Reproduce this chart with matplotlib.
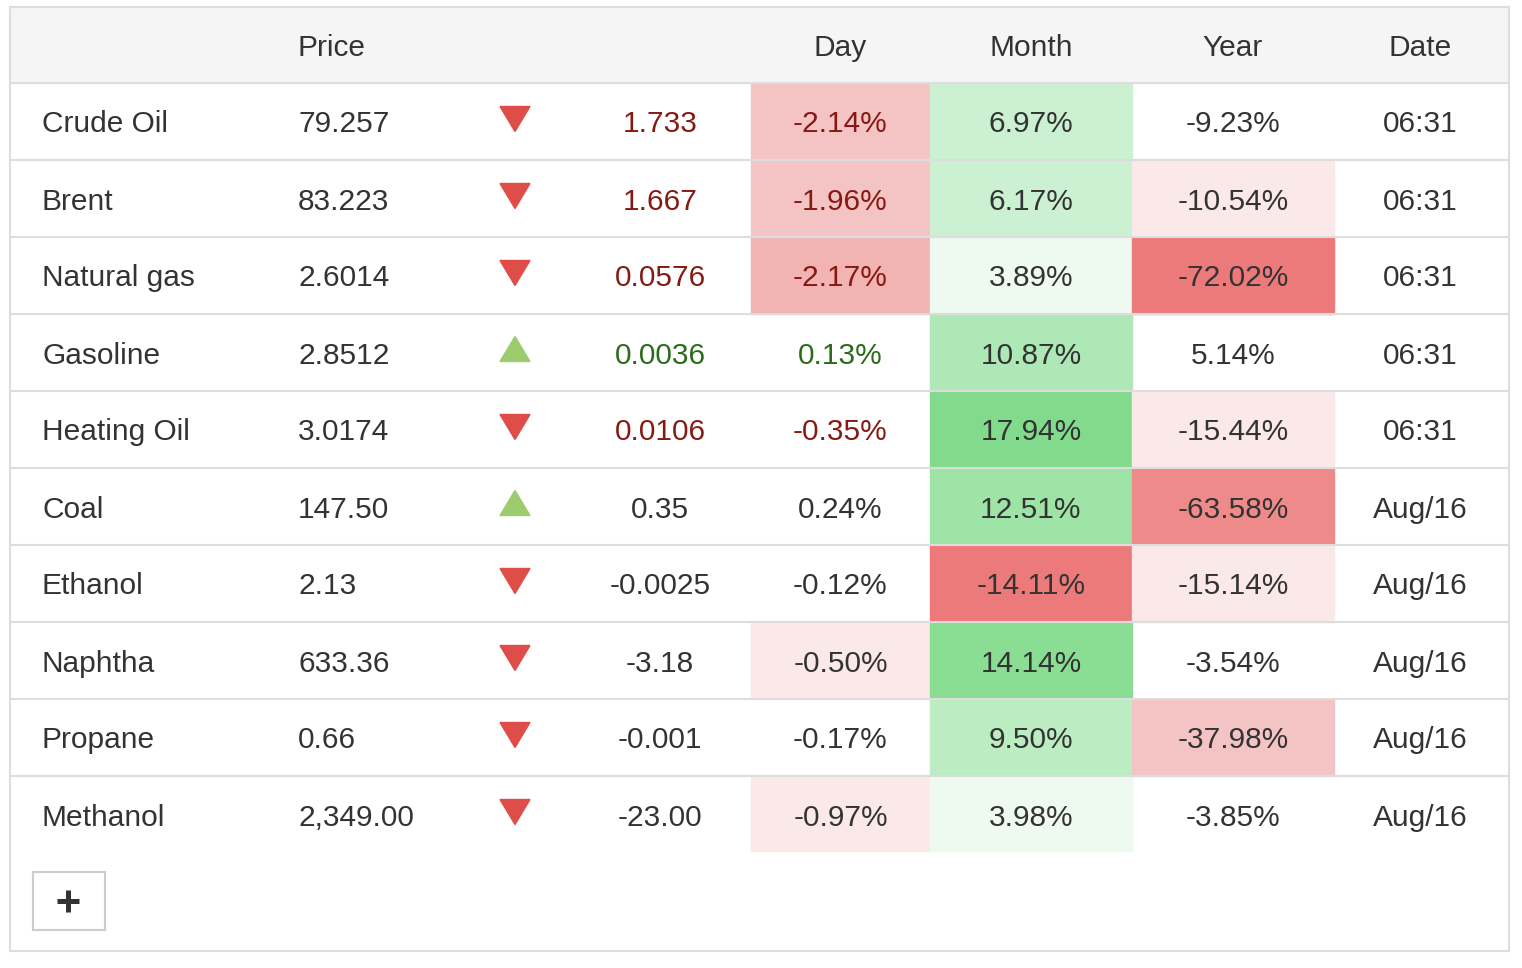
import matplotlib.pyplot as plt
from matplotlib.patches import Rectangle, Polygon

plt.rcParams['font.family'] = ['Liberation Sans', 'DejaVu Sans']

# 表格数据
names = ["Crude Oil", "Brent", "Natural gas", "Gasoline", "Heating Oil",
         "Coal", "Ethanol", "Naphtha", "Propane", "Methanol"]
prices = ["79.257", "83.223", "2.6014", "2.8512", "3.0174",
          "147.50", "2.13", "633.36", "0.66", "2,349.00"]
changes = ["1.733", "1.667", "0.0576", "0.0036", "0.0106",
           "0.35", "-0.0025", "-3.18", "-0.001", "-23.00"]
day_pct = [-2.14, -1.96, -2.17, 0.13, -0.35, 0.24, -0.12, -0.50, -0.17, -0.97]
month_pct = [6.97, 6.17, 3.89, 10.87, 17.94, 12.51, -14.11, 14.14, 9.50, 3.98]
year_pct = [-9.23, -10.54, -72.02, 5.14, -15.44, -63.58, -15.14, -3.54, -37.98, -3.85]
dates = ["06:31", "06:31", "06:31", "06:31", "06:31",
         "Aug/16", "Aug/16", "Aug/16", "Aug/16", "Aug/16"]
headers = ["Price", "Day", "Month", "Year", "Date"]

# 颜色
TXT = '#333333'
LINE = '#dddddd'
DARK_RED = '#861a12'
DARK_GREEN = '#2b6b1c'
ARROW_DOWN = '#de4d47'
ARROW_UP = '#9ccc6e'
RED = ['#fbe9e9', '#f4c4c4', '#f2b3b3', '#ef8a8a', '#ed7a7a']
GREEN = ['#eef9ef', '#ccf0d2', '#bbecc2', '#ade8b6', '#9ee4a6', '#8ade93', '#82da8c']

# 每列的分档阈值 (负值阈值, 负值颜色, 正值阈值, 正值颜色)
BINS = {
    'day': ([0.5, 1.5, 2.15], [RED[0], RED[1], RED[2]], [1.0], [GREEN[0]]),
    'month': ([14.0], [RED[4]], [3, 6, 9, 10, 12, 14, 16], GREEN),
    'year': ([10, 30, 60, 70], [RED[0], RED[1], RED[3], RED[4]], [10], [GREEN[0]]),
}


def cell_color(v, col):
    nt, nc, pt, pc = BINS[col]
    th, cs = (nt, nc) if v < 0 else (pt, pc)
    k = sum(abs(v) >= t for t in th)
    return None if k == 0 else cs[k - 1]


fig = plt.figure(figsize=(15.22, 9.68), dpi=100)
ax = fig.add_axes([0, 0, 1, 1])
ax.set_xlim(0, 1522)
ax.set_ylim(968, 0)
ax.axis('off')

left, right = 11, 1508
top, head_h, row_h = 8, 75, 77
body_bottom = 851
fs = 21.5

# 表头背景
ax.add_patch(Rectangle((left, top), right - left, head_h, color='#f5f5f5', zorder=0))

x_name, x_price, x_arrow, x_chg = 42, 298, 515, 660
col_spans = {'day': (751, 930), 'month': (930, 1132), 'year': (1132, 1334)}
x_date = 1420

hy = top + head_h / 2
ax.text(x_price, hy, headers[0], ha='left', va='center_baseline', fontsize=fs, color=TXT)
for h, key in zip(headers[1:4], ['day', 'month', 'year']):
    a, b = col_spans[key]
    ax.text((a + b) / 2, hy, h, ha='center', va='center_baseline', fontsize=fs, color=TXT)
ax.text(x_date, hy, headers[4], ha='center', va='center_baseline', fontsize=fs, color=TXT)

y0 = top + head_h
for i, name in enumerate(names):
    ry = y0 + i * row_h
    cy = ry + row_h / 2
    live = ':' in dates[i]
    for key, vals in (('day', day_pct), ('month', month_pct), ('year', year_pct)):
        c = cell_color(vals[i], key)
        if c:
            a, b = col_spans[key]
            hgt = min(ry + row_h, body_bottom) - ry
            ax.add_patch(Rectangle((a, ry), b - a, hgt, color=c, zorder=1))
    up = day_pct[i] > 0
    if live:
        vcol = DARK_GREEN if up else DARK_RED
    else:
        vcol = TXT
    ax.text(x_name, cy, name, ha='left', va='center_baseline', fontsize=fs, color=TXT, zorder=3)
    ax.text(x_price, cy, prices[i], ha='left', va='center_baseline', fontsize=fs, color=TXT, zorder=3)
    ay = cy - 3
    if up:
        tri = [(x_arrow - 15, ay + 12), (x_arrow + 15, ay + 12), (x_arrow, ay - 13)]
        ax.add_patch(Polygon(tri, closed=True, color=ARROW_UP, zorder=3))
    else:
        tri = [(x_arrow - 15, ay - 12), (x_arrow + 15, ay - 12), (x_arrow, ay + 13)]
        ax.add_patch(Polygon(tri, closed=True, color=ARROW_DOWN, zorder=3))
    ax.text(x_chg, cy, changes[i], ha='center', va='center_baseline', fontsize=fs, color=vcol, zorder=3)
    a, b = col_spans['day']
    ax.text((a + b) / 2, cy, f"{day_pct[i]:.2f}%", ha='center', va='center_baseline',
            fontsize=fs, color=vcol, zorder=3)
    a, b = col_spans['month']
    ax.text((a + b) / 2, cy, f"{month_pct[i]:.2f}%", ha='center', va='center_baseline',
            fontsize=fs, color=TXT, zorder=3)
    a, b = col_spans['year']
    ax.text((a + b) / 2, cy, f"{year_pct[i]:.2f}%", ha='center', va='center_baseline',
            fontsize=fs, color=TXT, zorder=3)
    ax.text(x_date, cy, dates[i], ha='center', va='center_baseline', fontsize=fs, color=TXT, zorder=3)

# 行分隔线
for i in range(len(names)):
    ly = y0 + i * row_h
    ax.plot([left, right], [ly, ly], color=LINE, lw=1.5, zorder=2, solid_capstyle='butt')

# 外框
ax.add_patch(Rectangle((10, 7), 1499, 944, fill=False, edgecolor=LINE, lw=1.5, zorder=4))

# "+" 按钮
ax.add_patch(Rectangle((33, 872), 72, 58, fill=False, edgecolor='#cccccc', lw=1.5, zorder=4))
ax.plot([57, 79], [901, 901], color='#333333', lw=3.6, solid_capstyle='butt', zorder=4)
ax.plot([68, 68], [890, 912], color='#333333', lw=3.6, solid_capstyle='butt', zorder=4)

fig.savefig('out.png', dpi=100, facecolor='white')
